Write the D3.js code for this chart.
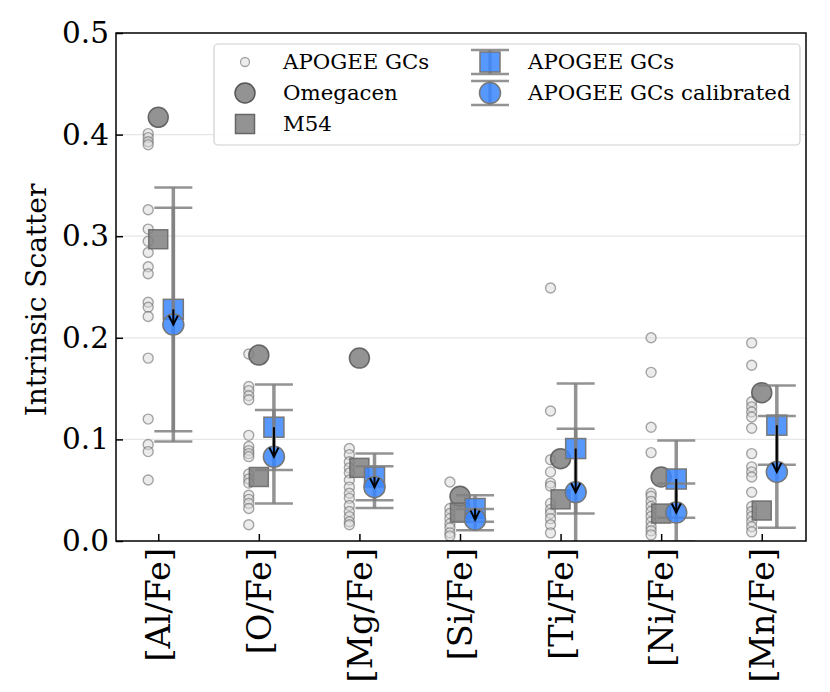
<!DOCTYPE html>
<html>
<head>
<meta charset="utf-8">
<script src="https://cdn.jsdelivr.net/npm/d3@7"></script>
<style>
    body {margin: 0; background: white;}
    svg {font-family: "DejaVu Serif", serif;}
</style>
</head>
<body>
<svg id="chart" width="830" height="692"></svg>
<script>
const elements = ["[Al/Fe]", "[O/Fe]", "[Mg/Fe]", "[Si/Fe]", "[Ti/Fe]", "[Ni/Fe]", "[Mn/Fe]"];

// individual APOGEE globular clusters, one list per element
const gcScatter = [
    [0.401, 0.397, 0.393, 0.39, 0.326, 0.307, 0.295, 0.284, 0.270, 0.263, 0.235, 0.230, 0.221, 0.180, 0.120, 0.095, 0.088, 0.060],
    [0.184, 0.152, 0.148, 0.143, 0.139, 0.104, 0.093, 0.089, 0.086, 0.083, 0.066, 0.061, 0.057, 0.045, 0.041, 0.037, 0.032, 0.016],
    [0.091, 0.085, 0.078, 0.072, 0.067, 0.060, 0.053, 0.047, 0.042, 0.035, 0.029, 0.024, 0.019, 0.016],
    [0.058, 0.032, 0.027, 0.022, 0.017, 0.013, 0.008, 0.005],
    [0.249, 0.128, 0.080, 0.068, 0.057, 0.054, 0.037, 0.031, 0.027, 0.022, 0.016, 0.008],
    [0.200, 0.166, 0.112, 0.087, 0.047, 0.044, 0.039, 0.034, 0.029, 0.024, 0.019, 0.014, 0.010, 0.006],
    [0.195, 0.173, 0.137, 0.132, 0.127, 0.122, 0.111, 0.086, 0.073, 0.068, 0.063, 0.048, 0.034, 0.029, 0.024, 0.019, 0.014, 0.009]
];
const omegacen = [0.417, 0.183, 0.180, 0.044, 0.081, 0.063, 0.146];
const m54 = [0.297, 0.063, 0.072, 0.028, 0.041, 0.027, 0.030];
const apogee = [0.228, 0.112, 0.063, 0.032, 0.091, 0.061, 0.114];
const apogeeErr = [0.120, 0.042, 0.023, 0.013, 0.064, 0.038, 0.039];
const calibrated = [0.213, 0.083, 0.053, 0.021, 0.048, 0.028, 0.068];
const calibratedErr = [0.115, 0.046, 0.0205, 0.0105, 0.0625, 0.0285, 0.055];
const yTicks = [0, 0.1, 0.2, 0.3, 0.4, 0.5];

const margin = ({top: 33, right: 24, bottom: 151, left: 116});
const width = 830, height = 692;
const svg = d3.select("#chart");

const x = d3.scaleLinear()
    .domain([-0.42, 6.44])
    .range([margin.left, width - margin.right]);
const y = d3.scaleLinear()
    .domain([0, 0.5])
    .range([height - margin.bottom, margin.top]);

const blue = "#3a86ff";
const errGrey = "#808080";

svg.append("defs").append("clipPath").attr("id", "clip")
    .append("rect")
    .attr("x", margin.left).attr("y", margin.top)
    .attr("width", width - margin.left - margin.right)
    .attr("height", height - margin.top - margin.bottom);

// grid
svg.append("g")
    .selectAll("line")
    .data(yTicks.slice(1, -1))
    .join("line")
    .attr("x1", margin.left).attr("x2", width - margin.right)
    .attr("y1", d => y(d)).attr("y2", d => y(d))
    .attr("stroke", "#e6e6e6")
    .attr("stroke-width", 1.2);

const plot = svg.append("g").attr("clip-path", "url(#clip)");

// small GC circles
gcScatter.forEach((vals, i) => {
    plot.append("g")
        .selectAll("circle")
        .data(vals)
        .join("circle")
        .attr("cx", x(i - 0.1))
        .attr("cy", d => y(d))
        .attr("r", 5)
        .attr("fill", "#d9d9d9")
        .attr("fill-opacity", 0.5)
        .attr("stroke", "#6e6e6e")
        .attr("stroke-opacity", 0.6)
        .attr("stroke-width", 1.4);
});

// omegacen
plot.append("g")
    .selectAll("circle")
    .data(omegacen)
    .join("circle")
    .attr("cx", (d, i) => x(i))
    .attr("cy", d => y(d))
    .attr("r", 10)
    .attr("fill", "#808080")
    .attr("fill-opacity", 0.85)
    .attr("stroke", "#555")
    .attr("stroke-opacity", 0.85)
    .attr("stroke-width", 1.5);

// M54
plot.append("g")
    .selectAll("rect")
    .data(m54)
    .join("rect")
    .attr("x", (d, i) => x(i) - 9.5)
    .attr("y", d => y(d) - 9.5)
    .attr("width", 19).attr("height", 19)
    .attr("fill", "#808080")
    .attr("fill-opacity", 0.85)
    .attr("stroke", "#666")
    .attr("stroke-opacity", 0.85)
    .attr("stroke-width", 1.5);

function errorbar(g, cx, lo, hi) {
    g.append("line")
        .attr("x1", cx).attr("x2", cx)
        .attr("y1", lo).attr("y2", hi)
        .attr("stroke", errGrey).attr("stroke-opacity", 0.85)
        .attr("stroke-width", 3.5);
    [lo, hi].forEach(v => g.append("line")
        .attr("x1", cx - 19).attr("x2", cx + 19)
        .attr("y1", v).attr("y2", v)
        .attr("stroke", errGrey).attr("stroke-opacity", 0.85)
        .attr("stroke-width", 2.5));
}

const bx = i => x(i + 0.15);

apogee.forEach((v, i) => {
    errorbar(plot, bx(i), y(v - apogeeErr[i]), y(v + apogeeErr[i]));
    plot.append("rect")
        .attr("x", bx(i) - 10).attr("y", y(v) - 10)
        .attr("width", 20).attr("height", 20)
        .attr("fill", blue).attr("fill-opacity", 0.85)
        .attr("stroke", "#777").attr("stroke-width", 1.5);
});

calibrated.forEach((v, i) => {
    errorbar(plot, bx(i), y(v - calibratedErr[i]), y(v + calibratedErr[i]));
    plot.append("circle")
        .attr("cx", bx(i)).attr("cy", y(v))
        .attr("r", 10.5)
        .attr("fill", blue).attr("fill-opacity", 0.85)
        .attr("stroke", "#777").attr("stroke-width", 1.5);
});

// arrows from raw to calibrated
apogee.forEach((v, i) => {
    const x0 = bx(i), y0 = y(v), y1 = y(calibrated[i]);
    plot.append("line")
        .attr("x1", x0).attr("x2", x0)
        .attr("y1", y0).attr("y2", y1)
        .attr("stroke", "black").attr("stroke-width", 2);
    plot.append("path")
        .attr("d", `M${x0 - 4.5},${y1 - 9}L${x0},${y1}L${x0 + 4.5},${y1 - 9}`)
        .attr("fill", "none")
        .attr("stroke", "black").attr("stroke-width", 2);
});

// axes
const yAxis = svg.append("g")
    .attr("transform", `translate(${margin.left},0)`)
    .call(d3.axisLeft(y).tickValues(yTicks).tickFormat(d3.format(".1f")).tickSizeInner(-7).tickSizeOuter(0).tickPadding(7));
yAxis.selectAll("text").attr("font-size", 29.5).attr("fill", "black").attr("font-family", "DejaVu Serif");

const xAxis = svg.append("g")
    .attr("transform", `translate(0,${height - margin.bottom})`)
    .call(d3.axisBottom(x).tickValues(d3.range(elements.length)).tickFormat(i => elements[i]).tickSizeInner(-7).tickSizeOuter(0));
xAxis.selectAll("text")
    .attr("font-size", 33.5)
    .attr("font-family", "DejaVu Serif")
    .attr("fill", "black")
    .attr("transform", "rotate(-90)")
    .attr("text-anchor", "end")
    .attr("x", -7).attr("y", 0).attr("dy", "0.35em");

svg.selectAll(".domain").remove();
svg.selectAll(".tick line").attr("stroke", "black").attr("stroke-width", 1.5);

svg.append("rect")
    .attr("x", margin.left).attr("y", margin.top)
    .attr("width", width - margin.left - margin.right)
    .attr("height", height - margin.top - margin.bottom)
    .attr("fill", "none").attr("stroke", "black").attr("stroke-width", 1.5);

svg.append("text")
    .attr("transform", `translate(46,${(margin.top + height - margin.bottom) / 2 + 13}) rotate(-90)`)
    .attr("text-anchor", "middle")
    .attr("font-size", 28)
    .text("Intrinsic Scatter");

// legend
const legend = svg.append("g").attr("font-size", 21.3);
legend.append("rect")
    .attr("x", 214).attr("y", 44).attr("width", 586).attr("height", 101)
    .attr("rx", 4)
    .attr("fill", "white").attr("fill-opacity", 0.85)
    .attr("stroke", "#d0d0d0").attr("stroke-width", 1.2);

const legendItems = [
    {label: "APOGEE GCs", kind: "small", col: 0, row: 0},
    {label: "Omegacen", kind: "omega", col: 0, row: 1},
    {label: "M54", kind: "m54", col: 0, row: 2},
    {label: "APOGEE GCs", kind: "sq", col: 1, row: 0},
    {label: "APOGEE GCs calibrated", kind: "circ", col: 1, row: 1}
];
legendItems.forEach(it => {
    const mx = it.col === 0 ? 245 : 490;
    const my = 62 + it.row * 31;
    const g = legend.append("g");
    if (it.kind === "small") {
        g.append("circle").attr("cx", mx).attr("cy", my).attr("r", 4.5)
            .attr("fill", "#d9d9d9").attr("fill-opacity", 0.5)
            .attr("stroke", "#6e6e6e").attr("stroke-opacity", 0.6).attr("stroke-width", 1.3);
    } else if (it.kind === "omega") {
        g.append("circle").attr("cx", mx).attr("cy", my).attr("r", 10)
            .attr("fill", "#808080").attr("fill-opacity", 0.85)
            .attr("stroke", "#555").attr("stroke-width", 1.5);
    } else if (it.kind === "m54") {
        g.append("rect").attr("x", mx - 9.5).attr("y", my - 9.5).attr("width", 19).attr("height", 19)
            .attr("fill", "#808080").attr("fill-opacity", 0.85)
            .attr("stroke", "#666").attr("stroke-width", 1.5);
    } else {
        errorbar(g, mx, my + 12, my - 12);
        if (it.kind === "sq") {
            g.append("rect").attr("x", mx - 10).attr("y", my - 10).attr("width", 20).attr("height", 20)
                .attr("fill", blue).attr("fill-opacity", 0.85).attr("stroke", "#777").attr("stroke-width", 1.5);
        } else {
            g.append("circle").attr("cx", mx).attr("cy", my).attr("r", 10.5)
                .attr("fill", blue).attr("fill-opacity", 0.85).attr("stroke", "#777").attr("stroke-width", 1.5);
        }
    }
    legend.append("text")
        .attr("x", it.col === 0 ? 283 : 528)
        .attr("y", my).attr("dy", "0.35em")
        .text(it.label);
});
</script>
</body>
</html>
